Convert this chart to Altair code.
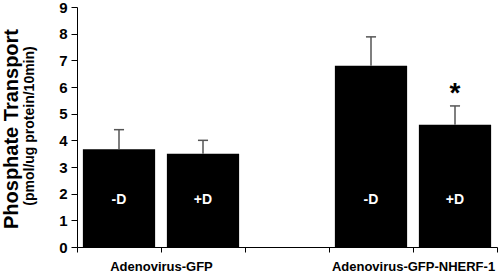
import altair as alt
import pandas as pd

# ---- data ----
groups = ["Adenovirus-GFP", "Adenovirus-GFP", "Adenovirus-GFP-NHERF-1", "Adenovirus-GFP-NHERF-1"]
treatments = ["-D", "+D", "-D", "+D"]
means = [3.67, 3.50, 6.80, 4.58]
sems = [0.73, 0.50, 1.08, 0.71]
marks = ["", "", "", "*"]
group_names = ["Adenovirus-GFP", "Adenovirus-GFP-NHERF-1"]
y_ticks = [0, 1, 2, 3, 4, 5, 6, 7, 8, 9]

df = pd.DataFrame({
    "group": groups,
    "treat": treatments,
    "mean": means,
    "sem": sems,
    "mark": marks,
})
df["gi"] = df["group"].map({g: i for i, g in enumerate(group_names)})
df["ti"] = df["treat"].map({"-D": 0, "+D": 1})

# category slots: each group takes two slots, one empty slot between groups
n_slots = len(group_names) * 3 - 1
label_parts = " : ".join(
    f"datum.value == {i * 3 + 1} ? '{g}'" for i, g in enumerate(group_names)
) + " : ''"

base = alt.Chart(df).transform_calculate(
    slot="datum.gi * 3 + datum.ti",
    x0="datum.slot + 0.07",
    x1="datum.slot + 0.93",
    xc="datum.slot + 0.5",
    cl="datum.slot + 0.44",
    cr="datum.slot + 0.56",
    upper="datum.mean + datum.sem",
)

xscale = alt.Scale(domain=[0, n_slots], nice=False, zero=False)
yscale = alt.Scale(domain=[0, 9], nice=False)

xaxis = alt.Axis(
    values=list(range(n_slots + 1)),
    labelExpr=label_parts,
    title=None,
    grid=False,
    tickSize=5,
    labelPadding=8,
    labelFontSize=13,
    labelFontWeight="bold",
    labelAngle=0,
    labelOverlap=False,
    labelFlush=False,
)
yaxis = alt.Axis(
    values=y_ticks,
    title=None,
    grid=False,
    tickSize=6,
    labelPadding=4,
    labelFontSize=15,
    labelFontWeight="bold",
    labelOverlap=False,
    labelFlush=False,
    labelBound=False,
)


def X(field):
    return alt.X(field, type="quantitative", scale=xscale, axis=xaxis)


def Y(field):
    return alt.Y(field, type="quantitative", scale=yscale, axis=yaxis)


bars = base.mark_bar(color="black").encode(
    x=X("x0"),
    x2="x1:Q",
    y=Y("mean"),
    y2=alt.datum(0),
)

stems = base.mark_rule(color="#555555", strokeWidth=1.5).encode(
    x=X("xc"),
    y=Y("mean"),
    y2="upper:Q",
)

caps = base.mark_rule(color="#555555", strokeWidth=1.5).encode(
    x=X("cl"),
    x2="cr:Q",
    y=Y("upper"),
)

labels = base.mark_text(
    color="white", fontSize=14, fontWeight="bold", font="Liberation Sans",
    baseline="middle", align="center",
).encode(
    x=X("xc"),
    y=alt.value(193),
    text="treat:N",
)

stars = base.mark_text(
    color="black", fontSize=28, fontWeight="bold", font="Liberation Sans",
    baseline="alphabetic", align="center", dy=-4,
).encode(
    x=X("xc"),
    y=Y("upper"),
    text="mark:N",
)

title_main = alt.Chart(pd.DataFrame({"t": ["Phosphate Transport"]})).mark_text(
    angle=270, fontSize=20, fontWeight="bold", font="Liberation Sans",
    baseline="alphabetic", align="center", color="black",
).encode(x=alt.value(-59), y=alt.value(122), text="t:N")

title_sub = alt.Chart(pd.DataFrame({"t": ["(pmol/ug protein/10min)"]})).mark_text(
    angle=270, fontSize=14, fontWeight="bold", font="Liberation Sans",
    baseline="alphabetic", align="center", color="black",
).encode(x=alt.value(-43), y=alt.value(119), text="t:N")

chart = alt.layer(bars, stems, caps, labels, stars, title_main, title_sub).properties(
    width=420,
    height=240,
    autosize=alt.AutoSizeParams(type="none"),
    padding={"left": 77, "top": 7, "right": 3, "bottom": 25},
).configure_view(stroke=None).configure_axis(
    labelFont="Liberation Sans",
    labelColor="black",
    domainColor="black",
    tickColor="black",
    domainWidth=1,
    tickWidth=1,
)

chart.save("out.html", embed_options={"renderer": "svg", "actions": False})
